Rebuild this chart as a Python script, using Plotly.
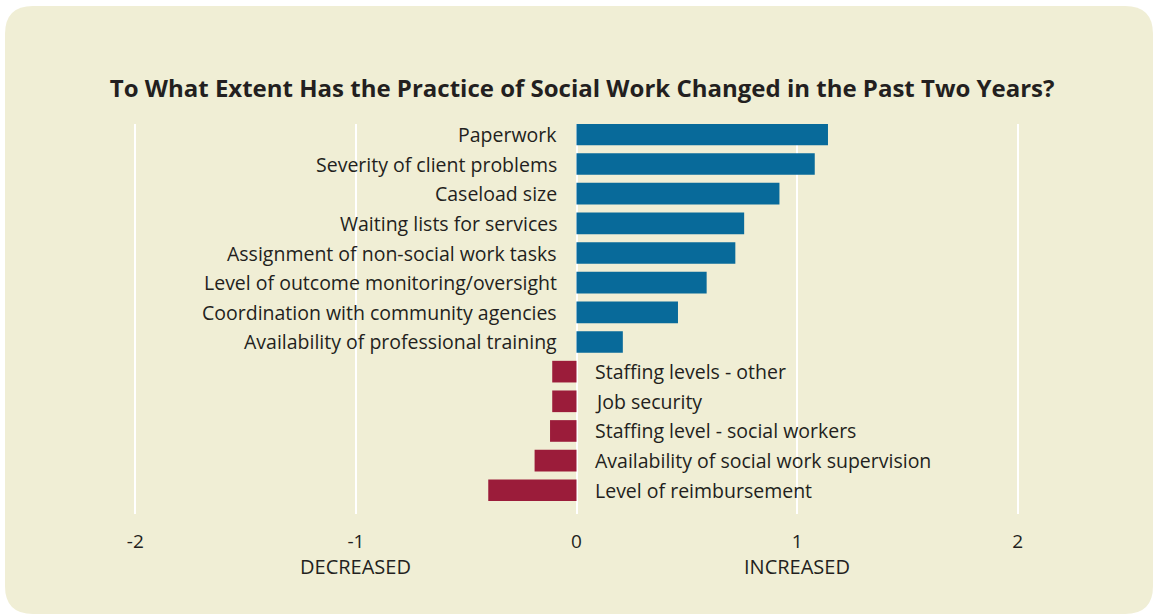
import plotly.graph_objects as go

# Survey items, top to bottom, with their mean change score
categories = [
    "Paperwork",
    "Severity of client problems",
    "Caseload size",
    "Waiting lists for services",
    "Assignment of non-social work tasks",
    "Level of outcome monitoring/oversight",
    "Coordination with community agencies",
    "Availability of professional training",
    "Staffing levels - other",
    "Job security",
    "Staffing level - social workers",
    "Availability of social work supervision",
    "Level of reimbursement",
]
values = [1.14, 1.08, 0.92, 0.76, 0.72, 0.59, 0.46, 0.21,
          -0.11, -0.11, -0.12, -0.19, -0.40]

tick_values = [-2, -1, 0, 1, 2]
tick_labels = ["-2", "-1", "0", "1", "2"]
direction_labels = ["DECREASED", "INCREASED"]
direction_positions = [-1, 1]

title = "To What Extent Has the Practice of Social Work Changed in the Past Two Years?"

BLUE = "#086a9a"
RED = "#9b1c3a"
PANEL = "#f0eed5"
TEXT = "#231f20"
FONT = "Open Sans"

W, H = 1155, 616
ML, MR, MT, MB = 25, 27, 124, 102
XR = [-2.5, 2.5]
YR = [12.8, -0.35]

colors = [BLUE if v >= 0 else RED for v in values]

fig = go.Figure(
    go.Bar(
        x=values,
        y=list(range(len(categories))),
        orientation="h",
        marker=dict(color=colors, line=dict(width=0)),
        width=0.73,
        hoverinfo="skip",
    )
)

# Item labels: left of zero for increases, right of zero for decreases
annotations = []
for i, (cat, v) in enumerate(zip(categories, values)):
    if v >= 0:
        annotations.append(dict(x=0, y=i, xref="x", yref="y", text=cat,
                                showarrow=False, xanchor="right", xshift=-18,
                                font=dict(size=19.5, color=TEXT, family=FONT)))
    else:
        annotations.append(dict(x=0, y=i, xref="x", yref="y", text=cat,
                                showarrow=False, xanchor="left", xshift=16,
                                font=dict(size=19.5, color=TEXT, family=FONT)))

for lab, pos in zip(direction_labels, direction_positions):
    annotations.append(dict(x=pos, y=-0.095, xref="x", yref="paper", text=lab,
                            showarrow=False, xanchor="center", yanchor="top",
                            font=dict(size=20, color=TEXT, family=FONT)))

# Rounded background panel (pixel coordinates converted to paper units)
pw = W - ML - MR
ph = H - MT - MB


def px(xp):
    return (xp - ML) / pw


def py(yp):
    return (H - MB - yp) / ph


x0, x1, y0, y1, r = 5, 1153, 6, 614, 28
path = (
    f"M {px(x0 + r)},{py(y0)} L {px(x1 - r)},{py(y0)} "
    f"Q {px(x1)},{py(y0)} {px(x1)},{py(y0 + r)} "
    f"L {px(x1)},{py(y1 - r)} "
    f"Q {px(x1)},{py(y1)} {px(x1 - r)},{py(y1)} "
    f"L {px(x0 + r)},{py(y1)} "
    f"Q {px(x0)},{py(y1)} {px(x0)},{py(y1 - r)} "
    f"L {px(x0)},{py(y0 + r)} "
    f"Q {px(x0)},{py(y0)} {px(x0 + r)},{py(y0)} Z"
)

fig.update_layout(
    width=W,
    height=H,
    margin=dict(l=ML, r=MR, t=MT, b=MB),
    paper_bgcolor="white",
    plot_bgcolor="rgba(0,0,0,0)",
    showlegend=False,
    title=dict(text=f"<b>{title}</b>", x=0.504, xanchor="center",
               y=1 - 89 / H, yanchor="middle",
               font=dict(size=24, color=TEXT, family=FONT)),
    shapes=[dict(type="path", path=path, xref="paper", yref="paper",
                 fillcolor=PANEL, line=dict(width=0), layer="below")],
    annotations=annotations,
    xaxis=dict(range=XR, tickvals=tick_values, ticktext=tick_labels,
               showgrid=True, gridcolor="white", gridwidth=2,
               zeroline=True, zerolinecolor="white", zerolinewidth=2,
               showline=False, ticks="outside", ticklen=10,
               tickcolor="rgba(0,0,0,0)",
               tickfont=dict(size=19, color=TEXT, family=FONT)),
    yaxis=dict(range=YR, showgrid=False, zeroline=False, showticklabels=False,
               ticks="", showline=False),
)

fig.write_html("out.html")
